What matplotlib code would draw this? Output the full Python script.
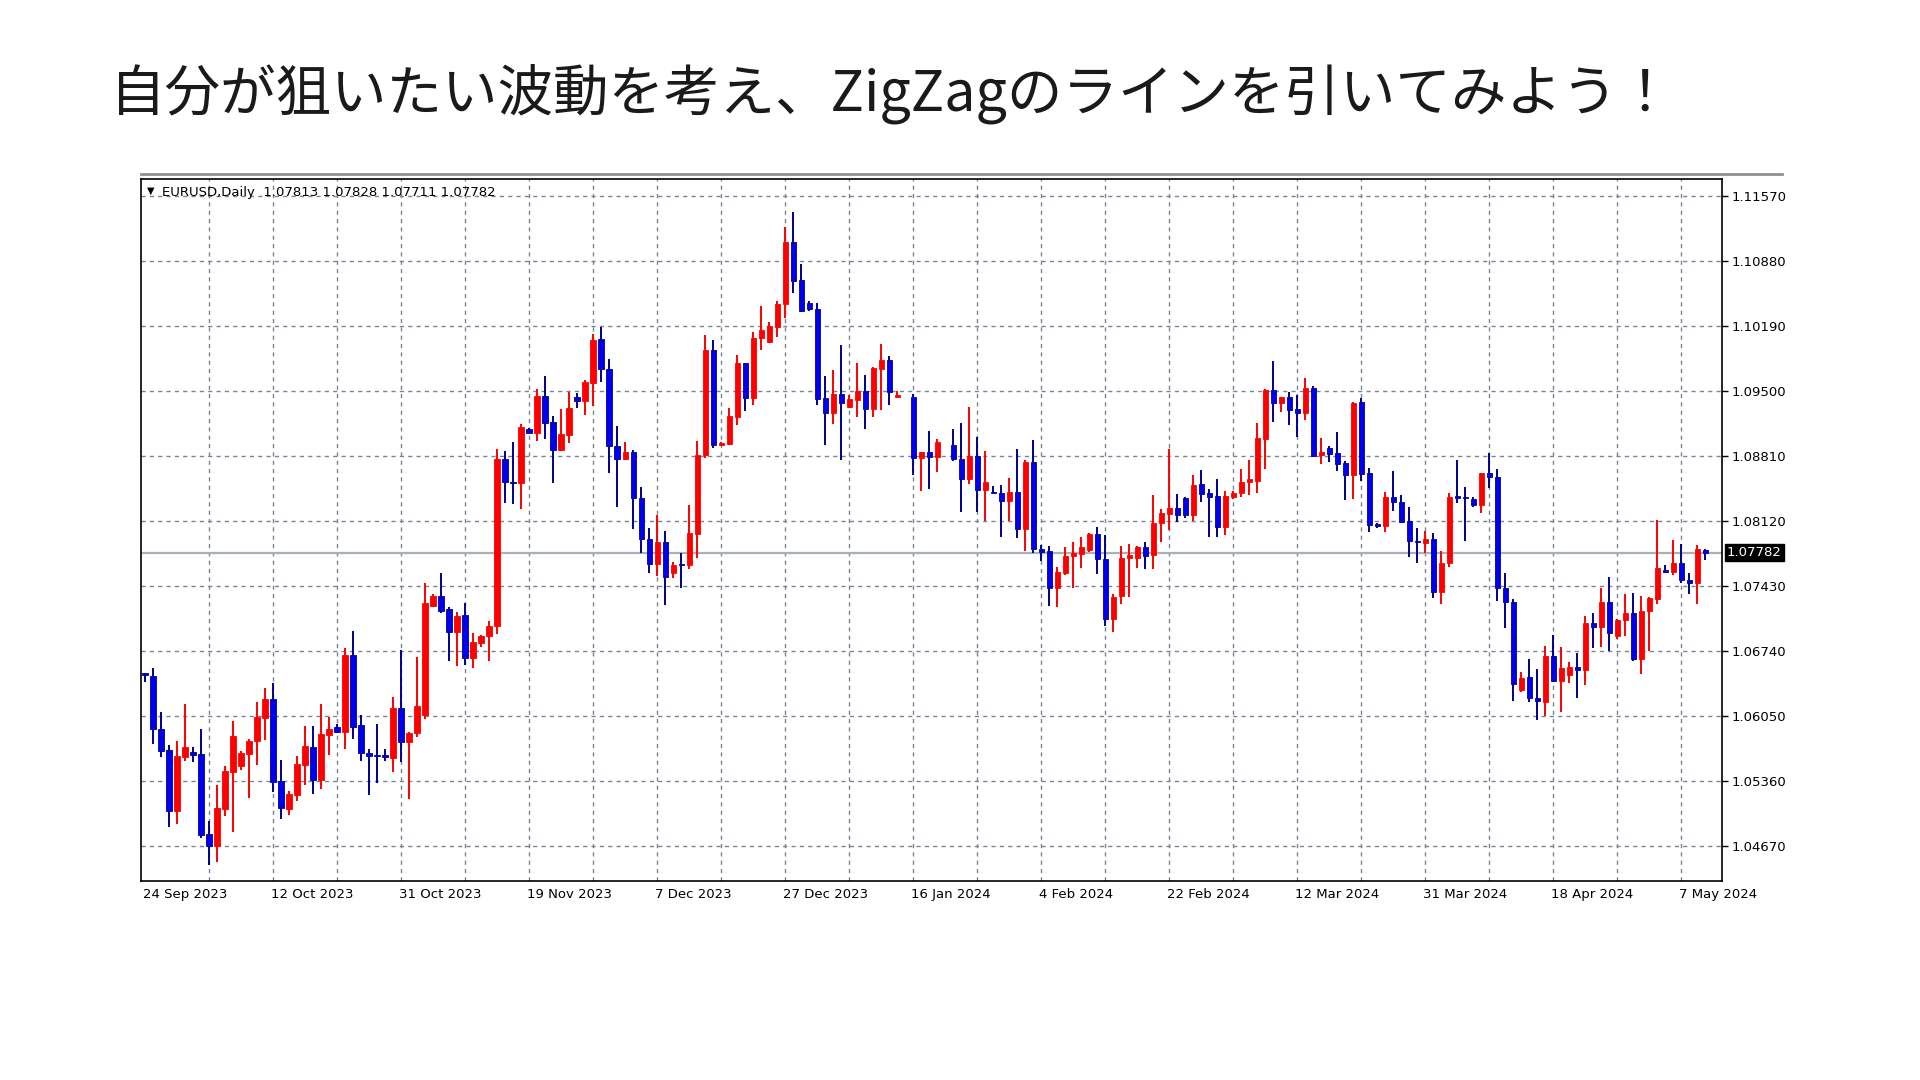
import matplotlib
matplotlib.use("Agg")
import matplotlib.pyplot as plt
import numpy as np
from matplotlib.lines import Line2D
from matplotlib.patches import Rectangle

plt.rcParams['font.family'] = ['Noto Sans CJK JP', 'DejaVu Sans']

title = "自分が狙いたい波動を考え、ZigZagのラインを引いてみよう！"
header = "EURUSD,Daily  1.07813 1.07828 1.07711 1.07782"
current_price = 1.07782
price_ticks = [1.11570, 1.10880, 1.10190, 1.09500, 1.08810, 1.08120, 1.07430, 1.06740, 1.06050, 1.05360, 1.04670]
date_labels = ["24 Sep 2023", "12 Oct 2023", "31 Oct 2023", "19 Nov 2023", "7 Dec 2023", "27 Dec 2023",
               "16 Jan 2024", "4 Feb 2024", "22 Feb 2024", "12 Mar 2024", "31 Mar 2024", "18 Apr 2024", "7 May 2024"]
nan = float('nan')

opens = [1.06495,1.06475,1.05912,1.05689,1.05045,1.05618,1.05668,1.05647,1.04798,1.04674,
 1.05059,1.05459,1.05523,1.05650,1.05788,1.06032,1.06230,1.05360,1.05059,1.05211,
 1.05530,1.05721,1.05374,1.05852,1.05930,1.05884,1.06697,1.05951,1.05654,1.05632,
 1.05636,1.05608,1.06135,1.05770,1.05866,1.06061,1.07218,1.07321,1.07190,1.06946,
 1.07119,1.06663,1.06822,1.06900,1.07006,1.08775,1.08538,1.08527,1.09093,1.09058,
 1.09443,1.09168,1.08874,1.09033,1.09440,1.09398,1.09589,1.10049,1.09730,1.08920,
 1.08778,1.08856,1.08368,1.07929,1.07664,1.07901,1.07565,1.07660,1.07654,1.07983,
 1.08821,1.09936,1.08928,1.08935,1.09228,1.09794,1.09430,1.10060,1.10021,1.10184,
 1.10421,1.11079,1.10679,1.10431,1.10368,1.09423,1.09264,1.09465,1.09327,1.09405,
 1.09501,1.09310,1.09734,1.09830,1.09441,nan,1.09441,1.08786,1.08857,1.08804,
 nan,1.08923,1.08774,1.08566,1.08813,1.08449,1.08431,1.08417,1.08332,1.08431,
 1.08035,1.08743,1.07826,1.07805,1.07405,1.07564,1.07748,1.07770,1.07812,1.07978,
 1.07720,1.07080,1.07324,1.07724,1.07724,1.07840,1.07759,1.08095,1.08194,1.08254,
 1.08367,1.08184,1.08509,1.08413,1.08385,1.08053,1.08378,1.08421,1.08537,1.08548,
 1.08990,1.09510,1.09376,1.09432,1.09305,1.09270,1.09528,1.08820,1.08891,1.08845,
 1.08732,1.08608,1.09380,1.08626,1.08084,1.08070,1.08371,1.08325,1.08120,1.07911,
 1.07890,1.07932,1.07363,1.07678,1.08385,1.08371,1.08354,1.08290,1.08626,1.08591,
 1.07413,1.07264,1.06327,1.06461,1.06238,1.06203,1.06687,1.06422,1.06486,1.06567,
 1.06539,1.07034,1.06999,1.07257,1.06900,1.07070,1.07147,1.06652,1.07165,1.07289,
 1.07600,1.07575,1.07671,1.07494,1.07459,1.07813]
highs = [1.06510,1.06556,1.06096,1.05742,1.05788,1.06174,1.05724,1.05912,1.04935,1.05318,
 1.05523,1.06000,1.05682,1.05802,1.06202,1.06351,1.06404,1.05583,1.05257,1.05625,
 1.05947,1.05947,1.06174,1.06043,1.05965,1.06775,1.06949,1.06064,1.05696,1.05965,
 1.05700,1.06255,1.06750,1.05880,1.06680,1.07466,1.07346,1.07565,1.07204,1.07158,
 1.07246,1.06928,1.06910,1.07062,1.08881,1.08863,1.08959,1.09150,1.09104,1.09518,
 1.09659,1.09235,1.09306,1.09490,1.09475,1.09617,1.10102,1.10183,1.09836,1.09129,
 1.08955,1.08874,1.08478,1.08050,1.08184,1.08014,1.07689,1.07777,1.08291,1.08974,
 1.10095,1.10042,1.08959,1.09317,1.09883,1.09794,1.10123,1.10403,1.10230,1.10460,
 1.11238,1.11404,1.10849,1.10460,1.10431,1.09660,1.09724,1.09989,1.09458,1.09801,
 1.09671,1.09759,1.10000,1.09872,1.09504,nan,1.09469,1.08857,1.09080,1.08988,
 nan,1.09093,1.09157,1.09326,1.09015,1.08863,1.08491,1.08498,1.08573,1.08884,
 1.08767,1.08980,1.07865,1.07858,1.07628,1.07840,1.07893,1.07954,1.07996,1.08060,
 1.07971,1.07342,1.07854,1.07872,1.07854,1.07893,1.08396,1.08244,1.08884,1.08403,
 1.08378,1.08608,1.08661,1.08456,1.08562,1.08438,1.08442,1.08668,1.08767,1.09157,
 1.09517,1.09818,1.09440,1.09486,1.09457,1.09641,1.09553,1.08997,1.08916,1.09061,
 1.08760,1.09387,1.09422,1.08679,1.08102,1.08424,1.08651,1.08396,1.08265,1.08042,
 1.08018,1.07989,1.07801,1.08413,1.08767,1.08484,1.08379,1.08633,1.08846,1.08669,
 1.07565,1.07289,1.06521,1.06652,1.06546,1.06797,1.06910,1.06779,1.06627,1.06716,
 1.07112,1.07147,1.07406,1.07529,1.07080,1.07342,1.07353,1.07328,1.07310,1.08131,
 1.07653,1.07919,1.07873,1.07572,1.07866,1.07828]
lows = [1.06414,1.05753,1.05611,1.04875,1.04904,1.05576,1.05565,1.04751,1.04468,1.04504,
 1.04992,1.04822,1.05477,1.05183,1.05533,1.05795,1.05240,1.04953,1.05000,1.05151,
 1.05318,1.05222,1.05279,1.05636,1.05873,1.05703,1.05809,1.05576,1.05215,1.05342,
 1.05576,1.05459,1.05565,1.05165,1.05831,1.06018,1.07204,1.07147,1.06638,1.06581,
 1.06592,1.06557,1.06779,1.06638,1.06917,1.08308,1.08297,1.08244,1.09051,1.08966,
 1.08987,1.08520,1.08867,1.08945,1.09316,1.09245,1.09341,1.09599,1.08626,1.08272,
 1.08768,1.08032,1.07777,1.07565,1.07537,1.07229,1.07512,1.07406,1.07608,1.07725,
 1.08786,1.08892,1.08917,1.08928,1.09140,1.09292,1.09352,1.09936,1.10007,1.10077,
 1.10276,1.10544,1.10343,1.10353,1.09352,1.08928,1.09150,1.08768,1.09317,1.09228,
 1.09094,1.09221,1.09299,1.09352,1.09423,nan,1.08609,1.08439,1.08461,1.08645,
 nan,1.08760,1.08212,1.08513,1.08212,1.08120,1.08414,1.07947,1.08120,1.07936,
 1.07801,1.07784,1.07699,1.07221,1.07211,1.07547,1.07405,1.07617,1.07794,1.07554,
 1.07005,1.06938,1.07235,1.07310,1.07617,1.07607,1.07607,1.07893,1.08024,1.08106,
 1.08148,1.08120,1.08318,1.07954,1.07947,1.07971,1.08353,1.08378,1.08396,1.08413,
 1.08672,1.09174,1.09280,1.09139,1.09008,1.09192,1.08803,1.08725,1.08743,1.08651,
 1.08343,1.08350,1.08548,1.08007,1.08042,1.08007,1.08230,1.08095,1.07741,1.07671,
 1.07784,1.07299,1.07235,1.07628,1.08307,1.07908,1.08265,1.08202,1.08474,1.07275,
 1.06981,1.06213,1.06302,1.06196,1.06008,1.06051,1.06415,1.06097,1.06397,1.06238,
 1.06380,1.06769,1.06779,1.06740,1.06864,1.06900,1.06638,1.06493,1.06740,1.07239,
 1.07565,1.07547,1.07466,1.07342,1.07236,1.07711]
closes = [1.06490,1.05908,1.05682,1.05045,1.05625,1.05721,1.05632,1.04790,1.04674,1.05073,
 1.05466,1.05838,1.05657,1.05788,1.06043,1.06230,1.05353,1.05077,1.05222,1.05540,
 1.05731,1.05374,1.05859,1.05912,1.05884,1.06697,1.05937,1.05654,1.05629,1.05629,
 1.05611,1.06135,1.05770,1.05873,1.06160,1.07246,1.07321,1.07169,1.06946,1.07112,
 1.06663,1.06840,1.06903,1.07006,1.08775,1.08534,1.08527,1.09115,1.09058,1.09443,
 1.09164,1.08874,1.09040,1.09316,1.09398,1.09592,1.10041,1.09730,1.08920,1.08778,
 1.08856,1.08368,1.07929,1.07664,1.07894,1.07522,1.07653,1.07653,1.07990,1.08821,
 1.09936,1.08928,1.08945,1.09235,1.09794,1.09430,1.10060,1.10148,1.10191,1.10424,
 1.11079,1.10672,1.10353,1.10368,1.09416,1.09264,1.09465,1.09370,1.09412,1.09501,
 1.09310,1.09741,1.09830,1.09494,1.09455,nan,1.08786,1.08857,1.08804,1.08963,
 nan,1.08774,1.08566,1.08813,1.08449,1.08530,1.08417,1.08332,1.08431,1.08035,
 1.08743,1.07823,1.07787,1.07405,1.07575,1.07752,1.07777,1.07840,1.07978,1.07717,
 1.07080,1.07317,1.07731,1.07759,1.07840,1.07748,1.08102,1.08201,1.08254,1.08184,
 1.08184,1.08502,1.08406,1.08378,1.08053,1.08385,1.08413,1.08537,1.08562,1.08997,
 1.09510,1.09376,1.09432,1.09298,1.09270,1.09528,1.08813,1.08856,1.08831,1.08725,
 1.08608,1.09369,1.08619,1.08077,1.08070,1.08371,1.08318,1.08113,1.07908,1.07897,
 1.07932,1.07363,1.07678,1.08378,1.08368,1.08361,1.08290,1.08626,1.08591,1.07406,
 1.07257,1.06387,1.06457,1.06238,1.06210,1.06687,1.06422,1.06556,1.06574,1.06539,
 1.07034,1.06992,1.07257,1.06935,1.07070,1.07147,1.06652,1.07165,1.07299,1.07625,
 1.07575,1.07671,1.07494,1.07459,1.07820,1.07782]

W, H = 1920, 1080
fig = plt.figure(figsize=(W/100, H/100), dpi=100)
fig.patch.set_facecolor('white')
L, R, T, B = 141, 1722, 179, 881
ax = fig.add_axes([L/W, 1-B/H, (R-L)/W, (B-T)/H])
ax.set_xlim(-0.5, 197.1)
ax.set_ylim(1.04299, 1.11750)

grid_c = '#7a8594'
for p in price_ticks:
    ax.axhline(p, color=grid_c, lw=1.0, ls=(0, (3, 3)), zorder=0)
for k in range(8, 198, 8):
    ax.axvline(k, color=grid_c, lw=1.0, ls=(0, (3, 3)), zorder=0)
ax.axhline(current_price, color='#a9b0b7', lw=1.6, zorder=1)

red, blue, navy = '#ff0000', '#0000ee', '#00008b'
for i, (o, h, l, c) in enumerate(zip(opens, highs, lows, closes)):
    if np.isnan(o):
        continue
    up = c >= o
    col = red if up else blue
    wick = red if up else navy
    ax.vlines(i, l, h, color=wick, lw=1.4, zorder=2)
    bot = min(o, c)
    ht = max(abs(c - o), 0.00012)
    ax.add_patch(Rectangle((i - 0.32, bot), 0.64, ht, facecolor=col,
                           edgecolor=wick if not up else red, lw=0.6, zorder=3))

for s in ax.spines.values():
    s.set_color('black')
    s.set_linewidth(1.2)
ax.set_xticks([])
ax.yaxis.tick_right()
ax.set_yticks(price_ticks)
ax.set_yticklabels([f"{p:.5f}" for p in price_ticks], fontsize=9.5, family=['DejaVu Sans'])
ax.tick_params(axis='y', length=4, width=1, pad=3, color='black')

for j, lab in enumerate(date_labels):
    ax.text(16 * j - 0.3, -0.01, lab, transform=ax.get_xaxis_transform(),
            ha='left', va='top', fontsize=9.5, family=['DejaVu Sans'])

ax.text(1.003, current_price, f"{current_price:.5f}", transform=ax.get_yaxis_transform(),
        ha='left', va='center', fontsize=9.5, color='white', family=['DejaVu Sans'],
        bbox=dict(boxstyle='square,pad=0.15', facecolor='black', edgecolor='black'), zorder=5)

ax.text(0.0035, 0.99, "▼", transform=ax.transAxes, ha='left', va='top', fontsize=7, family=['DejaVu Sans'])
ax.text(0.013, 0.99, header, transform=ax.transAxes, ha='left', va='top', fontsize=9.5, family=['DejaVu Sans'])

fig.add_artist(Line2D([141/W, 1782/W], [1-174/H, 1-174/H], color='#909090', lw=2.0))

fig.text(110/W, 1-94/H, title, fontsize=40, ha='left', va='center',
         family=['Noto Sans CJK JP', 'DejaVu Sans'], color='#1a1a1a')

fig.savefig('out.png', dpi=100, facecolor='white')
